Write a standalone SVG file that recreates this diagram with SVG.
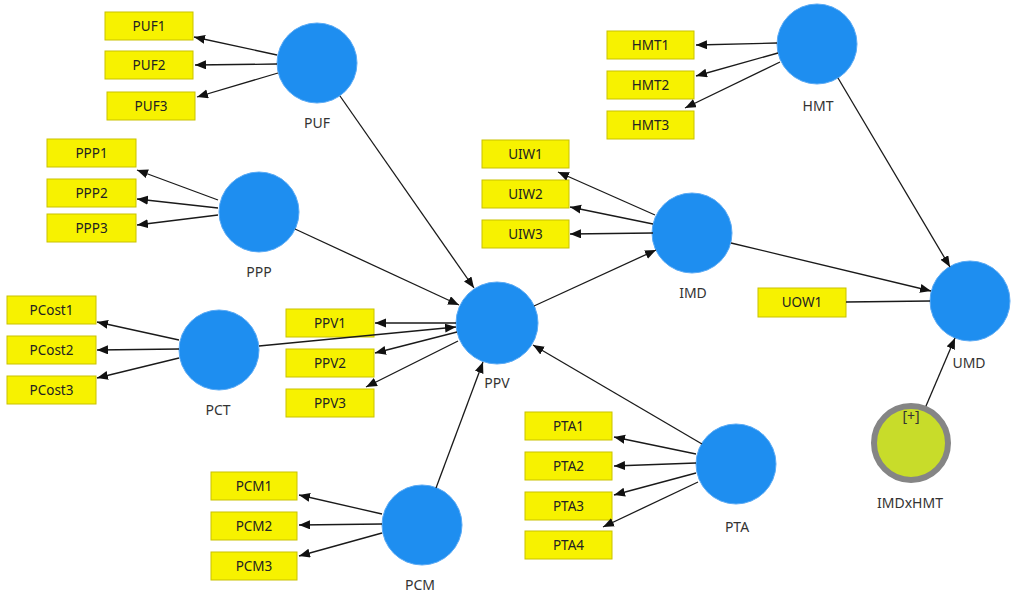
<svg xmlns="http://www.w3.org/2000/svg" width="1021" height="600" viewBox="0 0 1021 600">
<defs>
<marker id="ah" markerUnits="userSpaceOnUse" markerWidth="12" markerHeight="10" refX="11" refY="4.5" orient="auto">
<path d="M0,0 L11,4.5 L0,9 Z" fill="#111"/>
</marker>
<style>
.box{fill:#f7f200;stroke:#c9c200;stroke-width:1}
.bt{font-family:"Noto Sans","Open Sans",sans-serif;font-size:13.5px;fill:#222;text-anchor:middle}
.lv{fill:#1e8ef0;stroke:#5aaaf5;stroke-width:1}
.lt{font-family:"Noto Sans","Open Sans",sans-serif;font-size:14px;fill:#333;text-anchor:middle}
.c line{stroke:#1a1a1a;stroke-width:1.3;marker-end:url(#ah)}
.c line.na{marker-end:none}
</style>
</defs>
<rect width="1021" height="600" fill="#fff"/>

<g id="PUF"><circle class="lv" cx="317" cy="63" r="40"/><text class="lt" x="317" y="128">PUF</text></g>
<g id="PUF1"><rect class="box" x="105" y="12" width="88" height="28"/><text class="bt" x="149" y="31">PUF1</text></g>
<g id="PUF2"><rect class="box" x="105" y="51" width="88" height="28"/><text class="bt" x="149" y="70">PUF2</text></g>
<g id="PUF3"><rect class="box" x="107" y="92" width="88" height="28"/><text class="bt" x="151" y="111">PUF3</text></g>

<g id="PPP"><circle class="lv" cx="259" cy="212" r="40"/><text class="lt" x="259" y="277">PPP</text></g>
<g id="PPP1"><rect class="box" x="47" y="139" width="89" height="28"/><text class="bt" x="91.5" y="158">PPP1</text></g>
<g id="PPP2"><rect class="box" x="47" y="179" width="89" height="28"/><text class="bt" x="91.5" y="198">PPP2</text></g>
<g id="PPP3"><rect class="box" x="47" y="214" width="89" height="28"/><text class="bt" x="91.5" y="233">PPP3</text></g>

<g id="PCT"><circle class="lv" cx="219" cy="350" r="40"/><text class="lt" x="218" y="415">PCT</text></g>
<g id="PCost1"><rect class="box" x="7" y="296" width="89" height="28"/><text class="bt" x="51.5" y="315">PCost1</text></g>
<g id="PCost2"><rect class="box" x="7" y="336" width="89" height="28"/><text class="bt" x="51.5" y="355">PCost2</text></g>
<g id="PCost3"><rect class="box" x="7" y="376" width="89" height="28"/><text class="bt" x="51.5" y="395">PCost3</text></g>

<g id="PPV"><circle class="lv" cx="497" cy="323" r="41"/><text class="lt" x="497" y="388">PPV</text></g>
<g id="PPV1"><rect class="box" x="286" y="309" width="88" height="28"/><text class="bt" x="330" y="328">PPV1</text></g>
<g id="PPV2"><rect class="box" x="286" y="349" width="88" height="28"/><text class="bt" x="330" y="368">PPV2</text></g>
<g id="PPV3"><rect class="box" x="286" y="389" width="88" height="28"/><text class="bt" x="330" y="408">PPV3</text></g>

<g id="PCM"><circle class="lv" cx="422" cy="525" r="40"/><text class="lt" x="420" y="590">PCM</text></g>
<g id="PCM1"><rect class="box" x="211" y="472" width="86" height="28"/><text class="bt" x="254" y="491">PCM1</text></g>
<g id="PCM2"><rect class="box" x="211" y="512" width="86" height="28"/><text class="bt" x="254" y="531">PCM2</text></g>
<g id="PCM3"><rect class="box" x="211" y="552" width="86" height="28"/><text class="bt" x="254" y="571">PCM3</text></g>

<g id="PTA"><circle class="lv" cx="736" cy="464" r="40"/><text class="lt" x="737" y="532">PTA</text></g>
<g id="PTA1"><rect class="box" x="525" y="412" width="87" height="28"/><text class="bt" x="568.5" y="431">PTA1</text></g>
<g id="PTA2"><rect class="box" x="525" y="452" width="87" height="28"/><text class="bt" x="568.5" y="471">PTA2</text></g>
<g id="PTA3"><rect class="box" x="525" y="492" width="87" height="28"/><text class="bt" x="568.5" y="511">PTA3</text></g>
<g id="PTA4"><rect class="box" x="525" y="531" width="87" height="28"/><text class="bt" x="568.5" y="550">PTA4</text></g>

<g id="IMD"><circle class="lv" cx="692" cy="233" r="40"/><text class="lt" x="693" y="298">IMD</text></g>
<g id="UIW1"><rect class="box" x="482" y="140" width="87" height="28"/><text class="bt" x="525.5" y="159">UIW1</text></g>
<g id="UIW2"><rect class="box" x="482" y="180" width="87" height="28"/><text class="bt" x="525.5" y="199">UIW2</text></g>
<g id="UIW3"><rect class="box" x="482" y="220" width="87" height="28"/><text class="bt" x="525.5" y="239">UIW3</text></g>

<g id="HMT"><circle class="lv" cx="817" cy="44" r="40"/><text class="lt" x="818" y="111">HMT</text></g>
<g id="HMT1"><rect class="box" x="607" y="31" width="87" height="28"/><text class="bt" x="650.5" y="50">HMT1</text></g>
<g id="HMT2"><rect class="box" x="607" y="71" width="87" height="28"/><text class="bt" x="650.5" y="90">HMT2</text></g>
<g id="HMT3"><rect class="box" x="607" y="111" width="87" height="28"/><text class="bt" x="650.5" y="130">HMT3</text></g>

<g id="UMD"><circle class="lv" cx="970" cy="301" r="40"/><text class="lt" x="969" y="368">UMD</text></g>
<g id="UOW1"><rect class="box" x="758" y="288" width="88" height="29"/><text class="bt" x="802" y="307">UOW1</text></g>

<g id="IMDxHMT"><circle cx="911" cy="443" r="37" fill="#c8dc2a" stroke="#858585" stroke-width="6"/><text class="lt" x="911" y="421">[+]</text><text class="lt" x="910" y="508">IMDxHMT</text></g>

<g id="connectors" class="c">
<line x1="277" y1="55" x2="194" y2="37"/>
<line x1="277" y1="64" x2="195" y2="65"/>
<line x1="278" y1="73" x2="197" y2="97"/>
<line x1="218" y1="200" x2="137" y2="170"/>
<line x1="218" y1="208" x2="137" y2="199"/>
<line x1="218" y1="215" x2="137" y2="225"/>
<line x1="179" y1="340" x2="97" y2="322"/>
<line x1="179" y1="349" x2="97" y2="350"/>
<line x1="179" y1="358" x2="97" y2="378"/>
<line x1="456" y1="323" x2="375" y2="323"/>
<line x1="457" y1="332" x2="375" y2="353"/>
<line x1="458" y1="341" x2="366" y2="387"/>
<line x1="382" y1="514" x2="299" y2="495"/>
<line x1="382" y1="524" x2="299" y2="525"/>
<line x1="382" y1="533" x2="299" y2="556"/>
<line x1="696" y1="454" x2="614" y2="437"/>
<line x1="696" y1="463" x2="614" y2="466"/>
<line x1="696" y1="473" x2="614" y2="495"/>
<line x1="698" y1="482" x2="603" y2="527"/>
<line x1="655" y1="215" x2="558" y2="172"/>
<line x1="653" y1="224" x2="570" y2="207"/>
<line x1="653" y1="233" x2="570" y2="234"/>
<line x1="777" y1="43" x2="696" y2="45"/>
<line x1="778" y1="53" x2="696" y2="76"/>
<line x1="780" y1="62" x2="685" y2="108"/>
<line x1="340" y1="96" x2="474" y2="288"/>
<line x1="295" y1="229" x2="459" y2="305"/>
<line x1="259" y1="346" x2="456" y2="327"/>
<line x1="436" y1="488" x2="483" y2="362"/>
<line x1="702" y1="444" x2="533" y2="345"/>
<line x1="534" y1="306" x2="656" y2="250"/>
<line x1="731" y1="243" x2="931" y2="291"/>
<line x1="838" y1="78" x2="950" y2="267"/>
<line x1="926" y1="406" x2="955" y2="338"/>
<line class="na" x1="846" y1="302" x2="930" y2="301"/>
</g>
</svg>
